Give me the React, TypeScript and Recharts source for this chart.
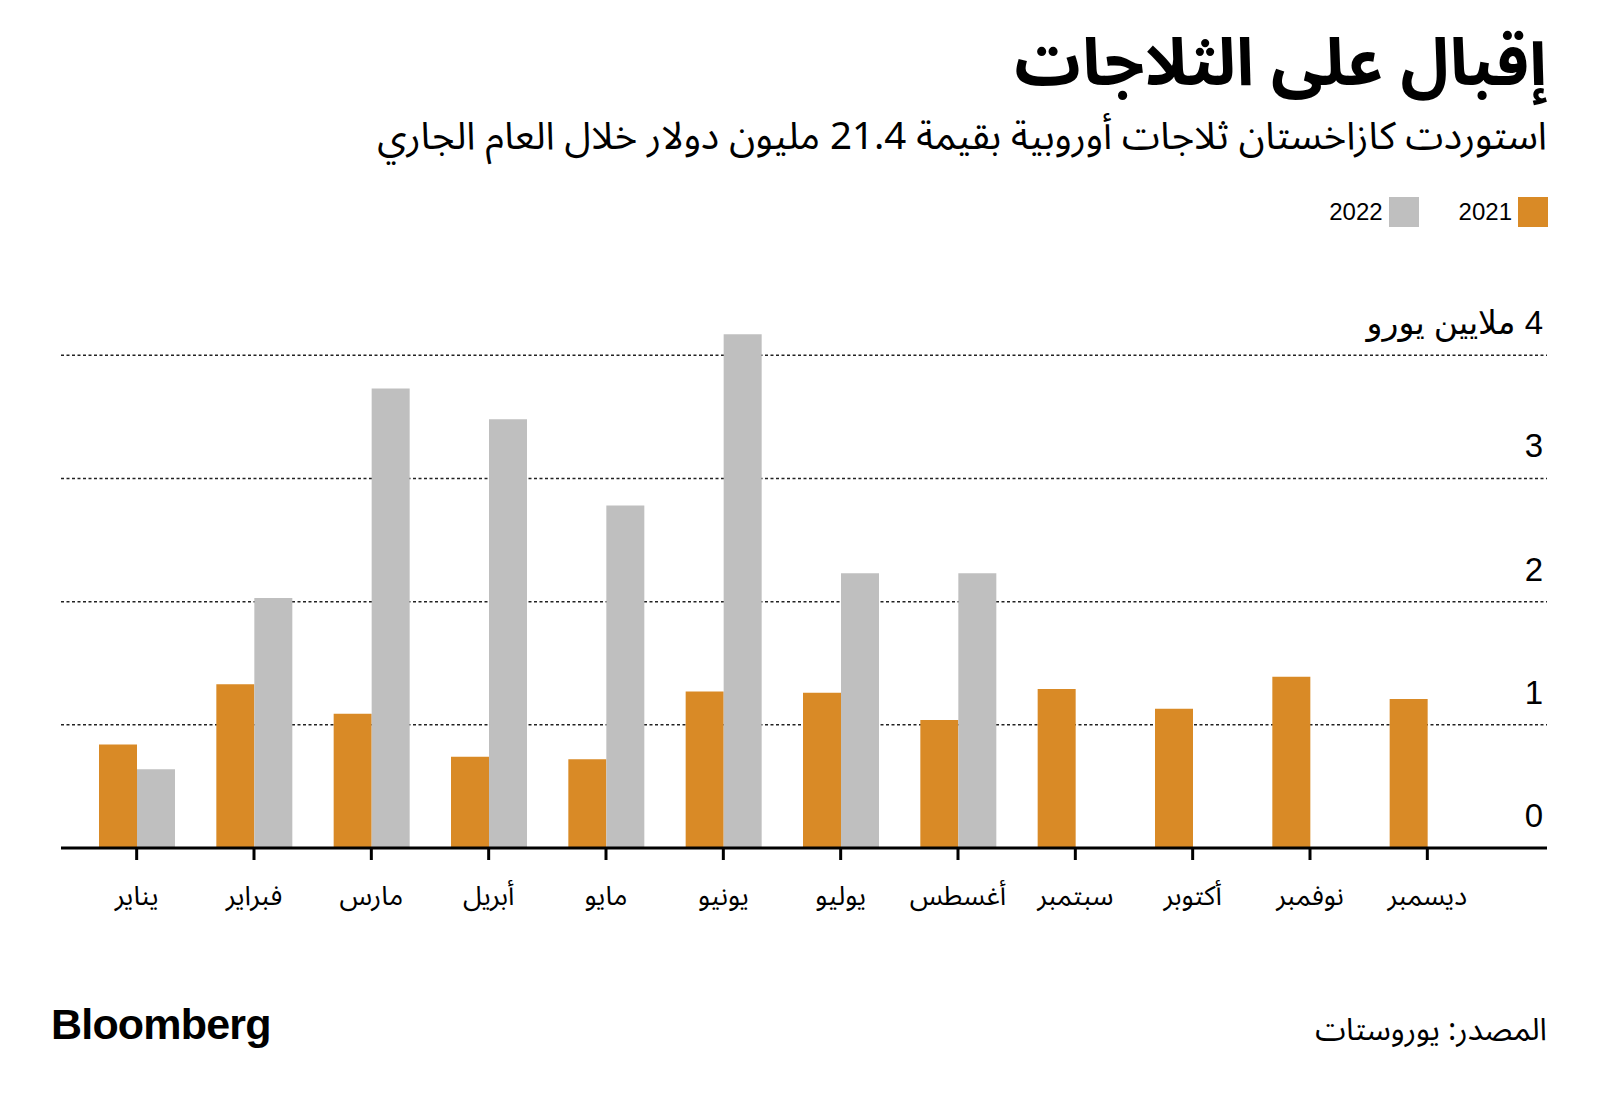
import { BarChart, Bar, XAxis, YAxis, CartesianGrid } from 'recharts';

const MONTHS = [
  'يناير',
  'فبراير',
  'مارس',
  'أبريل',
  'مايو',
  'يونيو',
  'يوليو',
  'أغسطس',
  'سبتمبر',
  'أكتوبر',
  'نوفمبر',
  'ديسمبر',
];

// millions of euros
const IMPORTS_2021 = [0.84, 1.33, 1.09, 0.74, 0.72, 1.27, 1.26, 1.04, 1.29, 1.13, 1.39, 1.21];
const IMPORTS_2022 = [0.64, 2.03, 3.73, 3.48, 2.78, 4.17, 2.23, 2.23, null, null, null, null];

const Y_TICKS = [0, 1, 2, 3, 4];
const Y_UNIT = 'ملايين يورو';

const SERIES = [
  { key: 'y2021', name: '2021', color: '#D98A26' },
  { key: 'y2022', name: '2022', color: '#BFBFBF' },
];

const TITLE = 'إقبال على الثلاجات';
const SUBTITLE = 'استوردت كازاخستان ثلاجات أوروبية بقيمة 21.4 مليون دولار خلال العام الجاري';
const SOURCE = 'المصدر: يوروستات';

const ARABIC_FONT = "'Noto Sans Arabic', 'DejaVu Sans', sans-serif";
const LATIN_FONT = "'Liberation Sans', Arial, 'DejaVu Sans', sans-serif";

const data = MONTHS.map((m, i) => ({
  month: m,
  y2021: IMPORTS_2021[i],
  y2022: IMPORTS_2022[i],
}));

function ValueTick({ x, y, payload }: any) {
  const top = payload.value === Y_TICKS[Y_TICKS.length - 1];
  const label = top ? `${payload.value} ${Y_UNIT}` : String(payload.value);
  return (
    <text
      x={x - 4}
      y={y - 21}
      textAnchor="end"
      fontSize={33}
      fill="#000"
      fontFamily={LATIN_FONT}
    >
      {top ? `\u2067${label}\u2069` : label}
    </text>
  );
}

function MonthTick({ x, y, payload }: any) {
  return (
    <text x={x} y={y} dy={43} textAnchor="middle" fontSize={27} fill="#000" fontFamily={ARABIC_FONT}>
      {payload.value}
    </text>
  );
}

export default function App() {
  return (
    <div style={{ position: 'absolute', left: 0, top: 0, width: 1600, height: 1104, background: '#fff' }}>
      <div
        dir="rtl"
        style={{
          position: 'absolute',
          right: 53,
          top: 18,
          fontFamily: ARABIC_FONT,
          fontWeight: 700,
          fontSize: 66,
          lineHeight: 1.4,
          whiteSpace: 'nowrap',
        }}
      >
        {TITLE}
      </div>
      <div
        dir="rtl"
        style={{
          position: 'absolute',
          right: 53,
          top: 116,
          fontFamily: ARABIC_FONT,
          fontSize: 38.5,
          lineHeight: 1.1,
          whiteSpace: 'nowrap',
        }}
      >
        {SUBTITLE}
      </div>

      <div
        dir="rtl"
        style={{
          position: 'absolute',
          right: 52,
          top: 197,
          display: 'flex',
          gap: 40,
          fontFamily: LATIN_FONT,
          fontSize: 24,
        }}
      >
        {SERIES.map((s) => (
          <div key={s.key} style={{ display: 'flex', alignItems: 'center', gap: 6 }}>
            <span style={{ width: 30, height: 30, background: s.color, display: 'inline-block' }} />
            <span>{s.name}</span>
          </div>
        ))}
      </div>

      <BarChart
        width={1600}
        height={1104}
        data={data}
        margin={{ top: 306, right: 52, left: 61, bottom: 196 }}
        barGap={0}
        barSize={38}
        style={{ position: 'absolute', left: 0, top: 0 }}
      >
        <CartesianGrid
          vertical={false}
          syncWithTicks
          stroke="#222"
          strokeWidth={1.5}
          strokeDasharray="3 2.5"
        />
        <XAxis
          dataKey="month"
          interval={0}
          height={60}
          padding={{ left: 17, right: 61 }}
          axisLine={{ stroke: '#000', strokeWidth: 3 }}
          tickLine={{ stroke: '#000', strokeWidth: 3 }}
          tickSize={12}
          tick={<MonthTick />}
        />
        <YAxis
          orientation="right"
          width={1}
          domain={[0, 4.4]}
          ticks={Y_TICKS}
          axisLine={false}
          tickLine={false}
          tickSize={0}
          tickMargin={0}
          tick={<ValueTick />}
        />
        {SERIES.map((s) => (
          <Bar key={s.key} dataKey={s.key} name={s.name} fill={s.color} isAnimationActive={false} />
        ))}
      </BarChart>

      <div
        style={{
          position: 'absolute',
          left: 51,
          top: 1003,
          fontFamily: LATIN_FONT,
          fontWeight: 700,
          fontSize: 43,
          letterSpacing: -0.8,
          lineHeight: 1,
        }}
      >
        Bloomberg
      </div>
      <div
        dir="rtl"
        style={{
          position: 'absolute',
          right: 53,
          top: 1015,
          fontFamily: ARABIC_FONT,
          fontSize: 31,
          lineHeight: 1,
          whiteSpace: 'nowrap',
        }}
      >
        {SOURCE}
      </div>
    </div>
  );
}
